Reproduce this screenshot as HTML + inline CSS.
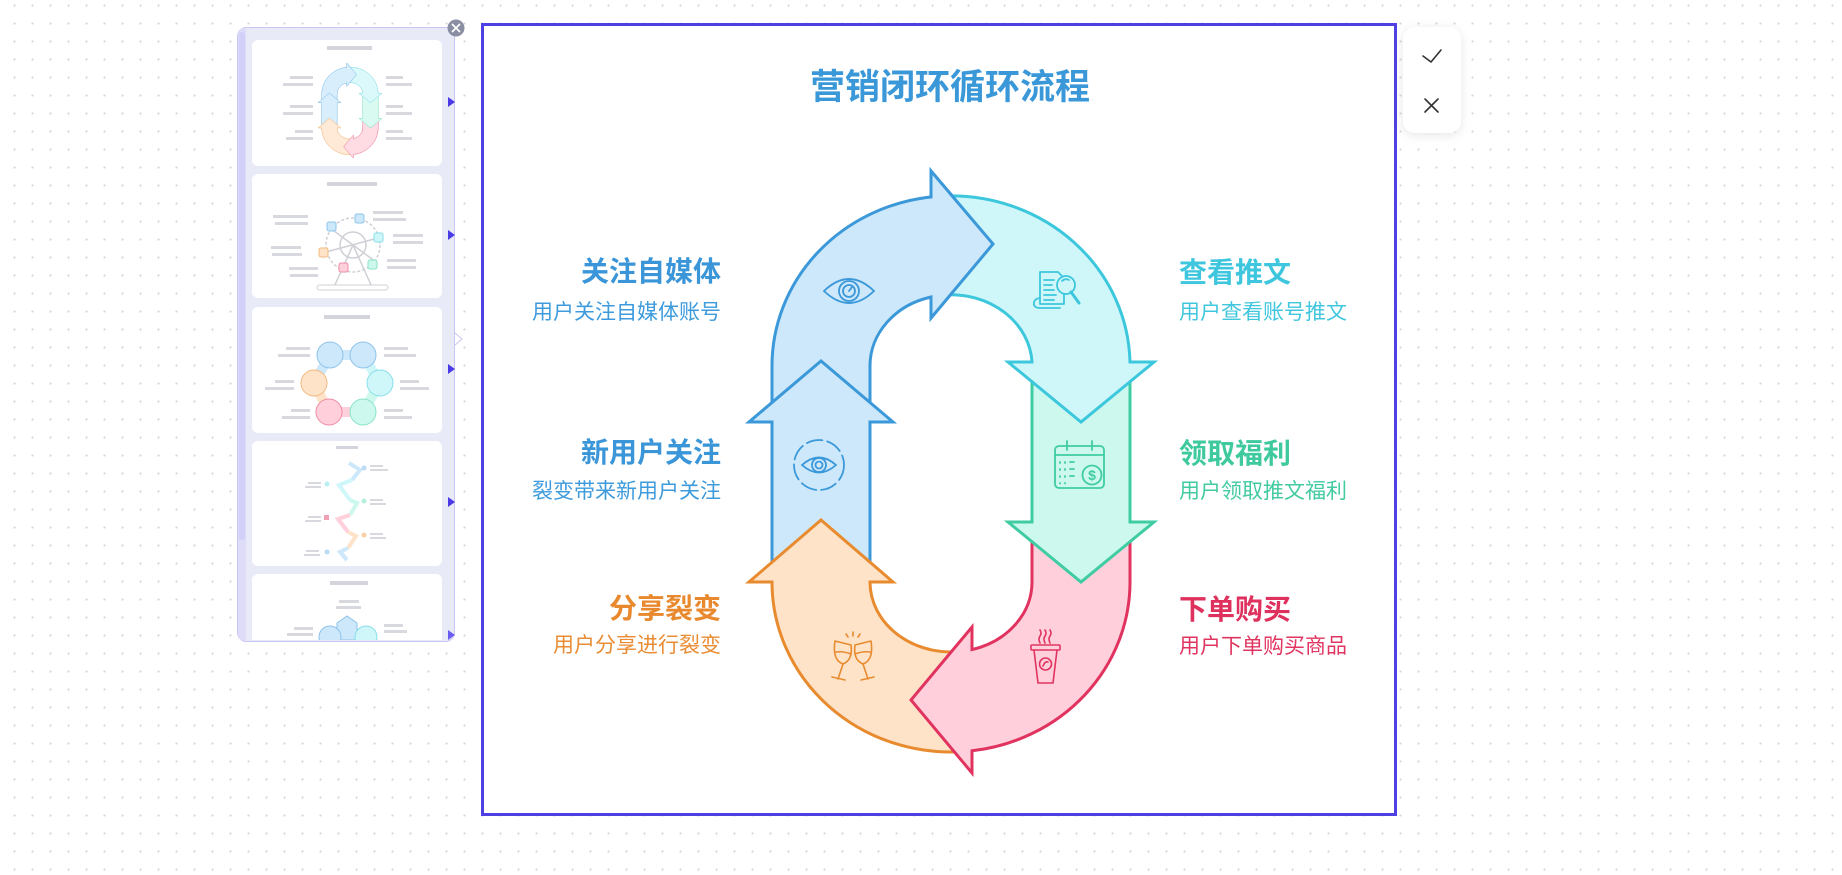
<!DOCTYPE html>
<html><head><meta charset="utf-8"><style>
html,body{margin:0;padding:0;background:#fff;}
svg{display:block;}
text{font-family:"Liberation Sans","Noto Sans CJK SC",sans-serif;}
</style></head><body>
<svg width="1842" height="875" viewBox="0 0 1842 875" xmlns="http://www.w3.org/2000/svg">
<defs>
<pattern id="dots" x="0" y="0" width="18" height="18" patternUnits="userSpaceOnUse">
<circle cx="14.5" cy="5.5" r="1.1" fill="#d6d6d8"/>
</pattern>
<clipPath id="clipA"><rect x="924" y="150" width="90" height="190"/></clipPath>
<clipPath id="sideClip"><rect x="246" y="28" width="208" height="612" rx="8"/></clipPath>
<filter id="sh" x="-50%" y="-50%" width="200%" height="200%"><feDropShadow dx="0" dy="2" stdDeviation="5" flood-color="#000" flood-opacity="0.10"/></filter>
<path id="pA" d="M772,412 L772,366 A179,170 0 0 1 931,197 L931,171 L993,244 L931,318 L931,297 A81,71 0 0 0 870,366 L870,412 Z"/>
<g id="arrows" stroke-width="3" stroke-linejoin="miter">
<use href="#pA" fill="#cde8fb" stroke="#3b98d9"/>
<path d="M772,578 L772,422 L749,422 L821,361 L893,422 L870,422 L870,578 Z" fill="#cde8fb" stroke="#3b98d9"/>
<path d="M772,582 L749,582 L821,520 L893,582 L870,582 A81,70 0 0 0 965,650.9 L965,751.5 A179,170 0 0 1 772,582 Z" fill="#fee3c9" stroke="#e88b2f"/>
<path d="M1130,530 L1130,582 A179,170 0 0 1 972,750.8 L972,773 L911,700 L972,627 L972,649.6 A81,70 0 0 0 1032,582 L1032,530 Z" fill="#ffd0dc" stroke="#e1335f"/>
<path d="M1032,372 L1130,372 L1130,522 L1154,522 L1081,582 L1008,522 L1032,522 Z" fill="#cdf8ed" stroke="#3fcca2"/>
<path d="M945,196 A179,170 0 0 1 1130,362 L1154,362 L1081,422 L1008,362 L1032,362 A81,71 0 0 0 945,295 Z" fill="#cff7fa" stroke="#3cc7dd"/>
<use href="#pA" fill="#cde8fb" stroke="#3b98d9" clip-path="url(#clipA)"/>
</g>
</defs>

<rect width="1842" height="875" fill="#ffffff"/>
<rect width="1842" height="875" fill="url(#dots)"/>

<!-- Sidebar -->
<rect x="237.5" y="27.5" width="217" height="614" rx="9" fill="#e9eaf7" stroke="#c9c5f2"/>
<path d="M246,28 L246,641 L246,641 Q238,641 238,633 L238,36 Q238,28 246,28 Z" fill="#dedcf9"/>
<rect x="239" y="32" width="6" height="508" rx="3" fill="#d2cff8"/>
<g clip-path="url(#sideClip)">
<!-- card 1 -->
<rect x="252" y="40" width="190" height="126" rx="6" fill="#fff"/>
<rect x="327" y="46" width="45" height="4" fill="#d4d5dc"/>
<g fill="#d8d9df">
<rect x="290" y="76" width="23" height="3"/><rect x="283" y="83" width="30" height="3"/>
<rect x="290" y="105" width="23" height="3"/><rect x="283" y="112" width="30" height="3"/>
<rect x="295" y="130" width="18" height="3"/><rect x="286" y="137" width="27" height="3"/>
<rect x="386" y="76" width="17" height="3"/><rect x="386" y="83" width="26" height="3"/>
<rect x="386" y="105" width="17" height="3"/><rect x="386" y="112" width="26" height="3"/>
<rect x="386" y="130" width="17" height="3"/><rect x="386" y="137" width="26" height="3"/>
</g>
<use href="#arrows" transform="translate(199.7,36) scale(0.158)" opacity="0.75"/>
<!-- card 2 -->
<rect x="252" y="174" width="190" height="124" rx="6" fill="#fff"/>
<rect x="327" y="182" width="50" height="4" fill="#d4d5dc"/>
<g fill="#d8d9df">
<rect x="273" y="215" width="35" height="3"/><rect x="275" y="222" width="33" height="3"/>
<rect x="271" y="246" width="30" height="3"/><rect x="272" y="253" width="30" height="3"/>
<rect x="289" y="267" width="29" height="3"/><rect x="290" y="274" width="28" height="3"/>
<rect x="373" y="211" width="30" height="3"/><rect x="373" y="218" width="33" height="3"/>
<rect x="393" y="234" width="30" height="3"/><rect x="393" y="241" width="30" height="3"/>
<rect x="387" y="259" width="29" height="3"/><rect x="387" y="266" width="29" height="3"/>
</g>
<g fill="none" stroke="#cfd0d6" stroke-width="1.5">
<circle cx="353" cy="245" r="27" stroke-dasharray="3 2"/>
<circle cx="353" cy="245" r="13"/>
<line x1="353" y1="245" x2="334" y2="287"/><line x1="353" y1="245" x2="372" y2="287"/>
<line x1="330" y1="228" x2="376" y2="262"/><line x1="326" y1="252" x2="378" y2="238"/>
</g>
<rect x="317" y="285" width="71" height="5" rx="2.5" fill="#fff" stroke="#cfd0d6"/>
<rect x="327" y="222" width="9" height="9" rx="2" fill="#cde8fb" stroke="#8cc3ea"/>
<rect x="355" y="214" width="9" height="9" rx="2" fill="#cde8fb" stroke="#8cc3ea"/>
<rect x="374" y="233" width="9" height="9" rx="2" fill="#cff7fa" stroke="#86dfe9"/>
<rect x="368" y="260" width="9" height="9" rx="2" fill="#cdf8ed" stroke="#8ae3c8"/>
<rect x="339" y="263" width="9" height="9" rx="2" fill="#ffd0dc" stroke="#ef8ba6"/>
<rect x="319" y="248" width="9" height="9" rx="2" fill="#fee3c9" stroke="#f2b87e"/>
<!-- card 3 -->
<rect x="252" y="307" width="190" height="126" rx="6" fill="#fff"/>
<rect x="324" y="315" width="46" height="4" fill="#d4d5dc"/>
<g fill="#d8d9df">
<rect x="286" y="347" width="24" height="3"/><rect x="278" y="354" width="32" height="3"/>
<rect x="275" y="380" width="19" height="3"/><rect x="265" y="387" width="29" height="3"/>
<rect x="291" y="409" width="19" height="3"/><rect x="282" y="416" width="28" height="3"/>
<rect x="384" y="347" width="24" height="3"/><rect x="384" y="354" width="32" height="3"/>
<rect x="400" y="380" width="19" height="3"/><rect x="400" y="387" width="29" height="3"/>
<rect x="384" y="409" width="19" height="3"/><rect x="384" y="416" width="28" height="3"/>
</g>
<g fill="none" stroke-width="10">
<path d="M330,355 L363,355" stroke="#cde8fb"/>
<path d="M363,355 L380,383" stroke="#cff7fa"/>
<path d="M380,383 L363,412" stroke="#cdf8ed"/>
<path d="M363,412 L329,412" stroke="#ffd0dc"/>
<path d="M329,412 L314,383" stroke="#fee3c9"/>
<path d="M314,383 L330,355" stroke="#cde8fb"/>
</g>
<g stroke-width="1">
<circle cx="330" cy="355" r="13" fill="#cde8fb" stroke="#8cc3ea"/>
<circle cx="363" cy="355" r="13" fill="#cde8fb" stroke="#8cc3ea"/>
<circle cx="380" cy="383" r="13" fill="#cff7fa" stroke="#86dfe9"/>
<circle cx="363" cy="412" r="13" fill="#cdf8ed" stroke="#8ae3c8"/>
<circle cx="329" cy="412" r="13" fill="#ffd0dc" stroke="#ef8ba6"/>
<circle cx="314" cy="383" r="13" fill="#fee3c9" stroke="#f2b87e"/>
</g>
<circle cx="347" cy="383" r="16" fill="#fff"/>
<!-- card 4 -->
<rect x="252" y="441" width="190" height="125" rx="6" fill="#fff"/>
<rect x="336" y="446" width="22" height="3" fill="#d4d5dc"/>
<g fill="none" stroke-width="4" stroke-linejoin="miter">
<polyline points="349,463 360,470 352,480" stroke="#cde8fb"/>
<polyline points="352,480 339,485 350,500" stroke="#cff7fa"/>
<polyline points="350,500 357,503 350,515" stroke="#cdf8ed"/>
<polyline points="350,515 338,519 348,532" stroke="#ffd0dc"/>
<polyline points="348,532 356,536 348,548" stroke="#fee3c9"/>
<polyline points="348,548 340,552 347,560" stroke="#cde8fb"/>
</g>
<g fill="#d8d9df">
<rect x="370" y="465" width="13" height="2"/><rect x="370" y="469" width="18" height="2"/>
<rect x="308" y="482" width="13" height="2"/><rect x="305" y="486" width="16" height="2"/>
<rect x="370" y="499" width="13" height="2"/><rect x="370" y="503" width="16" height="2"/>
<rect x="308" y="516" width="13" height="2"/><rect x="305" y="520" width="16" height="2"/>
<rect x="370" y="533" width="13" height="2"/><rect x="370" y="537" width="16" height="2"/>
<rect x="306" y="550" width="13" height="2"/><rect x="304" y="554" width="16" height="2"/>
</g>
<circle cx="364" cy="468" r="2.5" fill="#b9dcf4"/><circle cx="327" cy="484" r="2.5" fill="#b9eef3"/>
<circle cx="364" cy="501" r="2.5" fill="#b6efdd"/><rect x="324" y="515" width="5" height="5" fill="#f2a0b5"/>
<circle cx="364" cy="535" r="2.5" fill="#f8cfa6"/><circle cx="327" cy="552" r="2.5" fill="#b9dcf4"/>
<!-- card 5 -->
<rect x="252" y="574" width="190" height="80" rx="6" fill="#fff"/>
<rect x="330" y="581" width="38" height="4" fill="#d4d5dc"/>
<rect x="339" y="600" width="20" height="3" fill="#d8d9df"/><rect x="336" y="606" width="25" height="3" fill="#d8d9df"/>
<rect x="294" y="627" width="19" height="3" fill="#d8d9df"/><rect x="287" y="633" width="26" height="3" fill="#d8d9df"/>
<rect x="384" y="624" width="19" height="3" fill="#d8d9df"/><rect x="384" y="630" width="23" height="3" fill="#d8d9df"/>
<polygon points="337,623 347,616 357,623 357,640 337,640" fill="#cde8fb" stroke="#8cc3ea"/>
<circle cx="330" cy="637" r="11" fill="#cde8fb" stroke="#8cc3ea"/>
<circle cx="366" cy="637" r="11" fill="#cff7fa" stroke="#86dfe9"/>
</g>
<polygon points="448,97 455,102 448,107" fill="#4b3be6"/>
<polygon points="448,230 455,235 448,240" fill="#4b3be6"/>
<polygon points="448,364 455,369 448,374" fill="#4b3be6"/>
<polygon points="448,497 455,502 448,507" fill="#4b3be6"/>
<polygon points="448,630 455,635 448,640" fill="#6a5cf0"/>
<polyline points="455,333 462,339 455,345" fill="none" stroke="#c9c5f2" stroke-width="1"/>
<circle cx="456" cy="28" r="8.5" fill="#8a8ea2"/>
<path d="M452.5,24.5 L459.5,31.5 M459.5,24.5 L452.5,31.5" stroke="#fff" stroke-width="1.8" stroke-linecap="round"/>

<!-- Main frame -->
<rect x="482.5" y="24.5" width="913" height="790" fill="#fff" stroke="#4f40e3" stroke-width="3"/>

<text x="950" y="99" font-size="35" font-weight="bold" fill="#3a98d9" text-anchor="middle">营销闭环循环流程</text>

<use href="#arrows"/>

<!-- Icons -->
<g fill="none" stroke="#3b98d9" stroke-width="1.8" stroke-linecap="round">
<path d="M824,291 Q849,267 874,291 Q849,315 824,291 Z"/>
<circle cx="849" cy="291" r="10"/>
<circle cx="849" cy="291" r="6"/>
<path d="M849,291 L852,287"/>
<circle cx="819" cy="465" r="25" stroke-dasharray="16 5"/>
<path d="M802,465 Q819,450 836,465 Q819,480 802,465 Z"/>
<circle cx="819" cy="465" r="7"/>
<circle cx="819" cy="465" r="3.5"/>
</g>
<g fill="none" stroke="#3cc7dd" stroke-width="1.8" stroke-linecap="round" stroke-linejoin="round">
<path d="M1040,272 L1058,272 L1064,278 L1064,304 L1040,304 Z"/>
<path d="M1044,280 L1054,280 M1044,285 L1052,285 M1044,290 L1054,290 M1044,295 L1056,295 M1044,300 L1054,300"/>
<path d="M1040,298 Q1033,299 1034,305 Q1035,308 1040,308 L1060,308"/>
<circle cx="1066" cy="285" r="9" fill="#cff7fa"/>
<path d="M1062,281 Q1065,278 1069,280"/>
<path d="M1071,292 L1079,303" stroke-width="3"/>
</g>
<g fill="none" stroke="#3fcca2" stroke-width="1.8" stroke-linecap="round">
<rect x="1055" y="446" width="49" height="42" rx="4"/>
<path d="M1055,455 L1104,455 M1067,441 L1067,450 M1092,441 L1092,450"/>
<path d="M1060,462 L1060,463 M1065,462 L1065,463 M1070,462 L1074,462 M1060,469 L1060,470 M1065,469 L1065,470 M1070,469 L1074,469 M1060,476 L1060,477 M1065,476 L1065,477 M1070,476 L1074,476 M1060,483 L1060,483.5 M1065,483 L1065,483.5"/>
<circle cx="1092" cy="475" r="9.5"/>
</g>
<text x="1092" y="480" font-size="14" font-weight="bold" fill="#3fcca2" text-anchor="middle">$</text>
<g fill="none" stroke="#e88b2f" stroke-width="1.6" stroke-linecap="round" stroke-linejoin="round">
<path d="M835,641 L851,645 Q853,660 843,664 Q832,660 835,641 Z"/>
<path d="M836,652 Q843,651 851,654"/>
<path d="M843,664 L838,679 M832,677 L845,680"/>
<path d="M871,641 L855,645 Q853,660 863,664 Q874,660 871,641 Z"/>
<path d="M855,654 Q863,651 870,652"/>
<path d="M863,664 L868,679 M861,680 L874,677"/>
<path d="M853,632 L853,636 M846,634 L848,637 M860,634 L858,637"/>
</g>
<g fill="none" stroke="#e1335f" stroke-width="1.6" stroke-linecap="round" stroke-linejoin="round">
<path d="M1040,643 Q1038,639 1040,636 Q1042,633 1040,630"/>
<path d="M1045,643 Q1043,639 1045,636 Q1047,633 1045,630"/>
<path d="M1050,643 Q1048,639 1050,636 Q1052,633 1050,630"/>
<rect x="1031" y="645" width="29" height="5" rx="1"/>
<path d="M1034,650 L1038,683 L1053,683 L1057,650"/>
<circle cx="1045.5" cy="664" r="6"/>
<path d="M1043,666 Q1045,661 1048,662"/>
</g>

<!-- Labels -->
<g text-anchor="end">
<text x="721" y="281" font-size="28" font-weight="bold" fill="#3a96d8">关注自媒体</text>
<text x="721" y="319" font-size="21" fill="#3d9bdd">用户关注自媒体账号</text>
<text x="721" y="462" font-size="28" font-weight="bold" fill="#3a96d8">新用户关注</text>
<text x="721" y="498" font-size="21" fill="#3d9bdd">裂变带来新用户关注</text>
<text x="721" y="618" font-size="28" font-weight="bold" fill="#e8892e">分享裂变</text>
<text x="721" y="652" font-size="21" fill="#e98c33">用户分享进行裂变</text>
</g>
<g>
<text x="1179" y="282" font-size="28" font-weight="bold" fill="#3dc6dd">查看推文</text>
<text x="1179" y="319" font-size="21" fill="#40c7de">用户查看账号推文</text>
<text x="1179" y="463" font-size="28" font-weight="bold" fill="#3ec99e">领取福利</text>
<text x="1179" y="498" font-size="21" fill="#42caa1">用户领取推文福利</text>
<text x="1179" y="619" font-size="28" font-weight="bold" fill="#df315e">下单购买</text>
<text x="1179" y="653" font-size="21" fill="#e03561">用户下单购买商品</text>
</g>

<!-- Right panel -->
<rect x="1403" y="27" width="58" height="106" rx="12" fill="#fff" filter="url(#sh)"/>
<polyline points="1423,56 1431,62 1441,50" fill="none" stroke="#333" stroke-width="1.6" stroke-linecap="round" stroke-linejoin="round"/>
<path d="M1425,99 L1438,112 M1438,99 L1425,112" stroke="#333" stroke-width="1.6" stroke-linecap="round"/>
</svg>
</body></html>
